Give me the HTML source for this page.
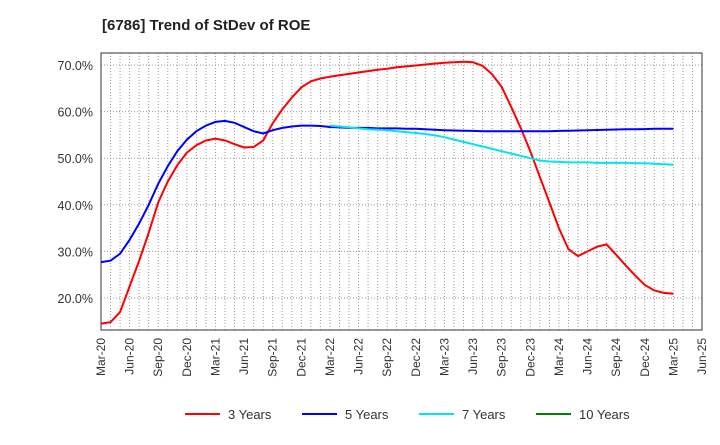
<!DOCTYPE html>
<html><head><meta charset="utf-8"><style>
body{margin:0;background:#fff;font-family:"Liberation Sans",sans-serif}
</style></head><body>
<svg width="720" height="440" xmlns="http://www.w3.org/2000/svg" font-family="Liberation Sans, sans-serif">
<text x="102" y="30" font-size="15" font-weight="bold" fill="#222">[6786]  Trend of StDev of ROE</text>
<g id="grid"></g><g id="axes"></g><g id="series"></g><g id="legend"></g>
</svg>
<script>
const xLabels=["Mar-20","Jun-20","Sep-20","Dec-20","Mar-21","Jun-21","Sep-21","Dec-21","Mar-22","Jun-22","Sep-22","Dec-22","Mar-23","Jun-23","Sep-23","Dec-23","Mar-24","Jun-24","Sep-24","Dec-24","Mar-25","Jun-25"];
const yTicks=[20,30,40,50,60,70];
const s3=[14.5,14.8,17,22.5,28,34,40.5,45,48.5,51.2,52.8,53.8,54.2,53.8,53,52.3,52.4,53.8,57.5,60.5,63,65.2,66.5,67.1,67.5,67.8,68.1,68.4,68.7,69,69.2,69.5,69.7,69.9,70.1,70.3,70.5,70.6,70.7,70.6,69.8,68,65.3,61,56.5,51.5,46,40.5,35,30.5,29,30,31,31.5,29.3,27,24.8,22.8,21.6,21.1,20.9];
const s5=[27.7,28,29.5,32.5,36,40,44.5,48.3,51.5,54,55.8,57,57.8,58,57.6,56.7,55.8,55.3,56,56.5,56.8,57,57,56.9,56.7,56.6,56.5,56.5,56.5,56.4,56.4,56.4,56.3,56.3,56.2,56.1,56,55.95,55.9,55.85,55.8,55.8,55.8,55.8,55.8,55.8,55.8,55.8,55.85,55.9,55.95,56,56.05,56.1,56.15,56.2,56.2,56.25,56.3,56.3,56.3];
const s7=[null,null,null,null,null,null,null,null,null,null,null,null,null,null,null,null,null,null,null,null,null,null,null,null,57,56.8,56.6,56.4,56.2,56.1,56,55.8,55.6,55.4,55.2,54.9,54.5,54,53.5,53,52.5,52,51.5,51,50.5,50,49.5,49.3,49.2,49.1,49.1,49.1,49,49,49,49,48.9,48.9,48.8,48.7,48.6];
const s10=[];
const L=101,R=702,T=53,B=330;
const ns="http://www.w3.org/2000/svg";
const x=i=>L+i*(R-L)/63;
const y=v=>298-(v-20)*4.66;
function mk(p,t,a){const e=document.createElementNS(ns,t);for(const k in a)e.setAttribute(k,a[k]);document.getElementById(p).appendChild(e);return e;}
for(let i=1;i<63;i++){const g=mk('grid','line',{x1:x(i),x2:x(i),y1:T,y2:B,stroke:'#999','stroke-dasharray':'1,2','stroke-width':1});

}
yTicks.forEach(v=>{const g=mk('grid','line',{x1:L,x2:R,y1:y(v),y2:y(v),stroke:'#999','stroke-dasharray':'1,2'});


const t=mk('axes','text',{x:L-8,y:y(v)+5,'text-anchor':'end','font-size':12.5,fill:'#333'});t.textContent=v.toFixed(1)+'%';

});
const fr=mk('axes','rect',{x:L,y:T,width:R-L,height:B-T,fill:'none',stroke:'#333'});


xLabels.forEach((l,i)=>{const xx=x(i*3);const t=mk('axes','text',{transform:`translate(${xx+4},${B+8}) rotate(-90)`,'text-anchor':'end','font-size':12,fill:'#333'});t.textContent=l;

});
function line(arr,c,n){let d='';arr.forEach((v,i)=>{if(v==null)return;d+=(d?'L':'M')+x(i).toFixed(1)+','+y(v).toFixed(1);});if(!d)return;
const p=mk('series','path',{d:d,fill:'none',stroke:c,'stroke-width':2});

}
line(s3,'#ff0000','line-3-years');line(s5,'#0000ff','line-5-years');line(s7,'#00e5ee','line-7-years');line(s10,'#008000','line-10-years');
const leg=[['3 Years','#ff0000',185],['5 Years','#0000ff',302],['7 Years','#00e5ee',419],['10 Years','#008000',536]];
leg.forEach(([n,c,lx])=>{const l=mk('legend','line',{x1:lx,x2:lx+35,y1:414,y2:414,stroke:c,'stroke-width':2});


const t=mk('legend','text',{x:lx+43,y:419,'font-size':13,fill:'#333'});t.textContent=n;

});
</script>
</body></html>
